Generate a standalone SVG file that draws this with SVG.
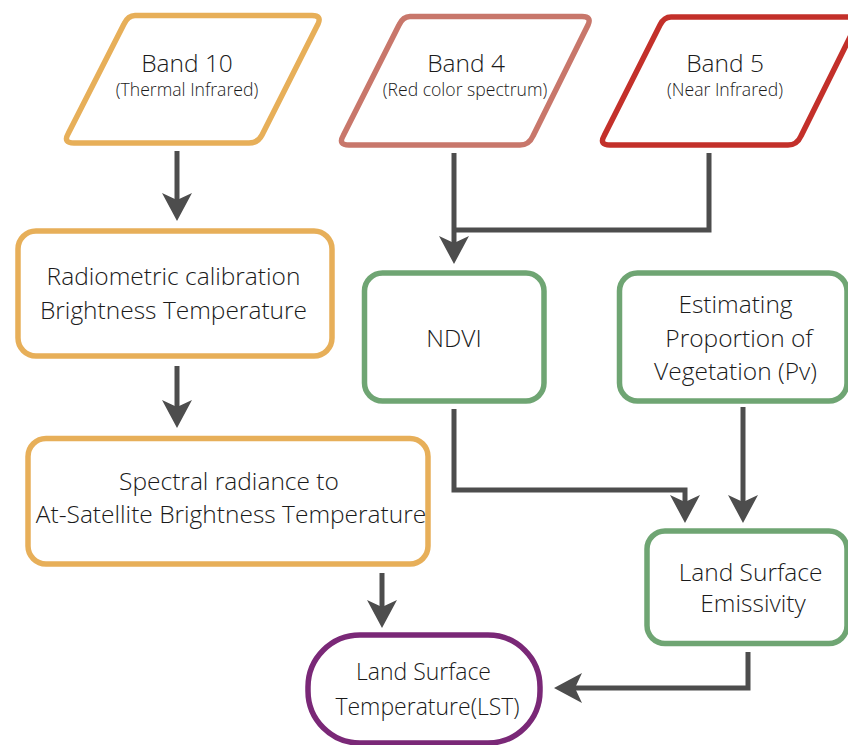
<svg xmlns="http://www.w3.org/2000/svg" width="848" height="745" viewBox="0 0 848 745">
<defs>
<style>
.t{font-family:"Open Sans","Noto Sans","Liberation Sans",sans-serif;font-weight:300;fill:#1a1a1a;text-anchor:middle}
.big{font-size:24.5px}
.mid{font-size:23px}
.sub{font-size:17.6px}
.node{fill:#fff;stroke-width:5.5;stroke-linejoin:round}
.orange{stroke:#E7AF59}
.rose{stroke:#C8776B}
.red{stroke:#C3302A}
.green{stroke:#6FA573}
.purple{stroke:#7A2877}
.conn{fill:none;stroke:#4D4D4D;stroke-width:5;stroke-linejoin:miter}
</style>
<marker id="arr" markerUnits="userSpaceOnUse" viewBox="0 0 28 30" markerWidth="28" markerHeight="30" refX="7" refY="15" orient="auto">
<path d="M0,0 L28,15 L0,30 L7,15 Z" fill="#4D4D4D"/>
</marker>
</defs>
<rect width="848" height="745" fill="#fff"/>

<g id="band10">
<path class="node orange" d="M135,15.5 H312 Q322,15.5 318,24 L262,135 Q258,143 249,143 H74 Q63,143 68,134 L124,24 Q128,15.5 135,15.5 Z"/>
<text class="t big" x="187" y="72">Band 10</text>
<text class="t sub" x="187" y="96">(Thermal Infrared)</text>
</g>

<g id="band4">
<path class="node rose" d="M410,16.5 H582 Q592,16.5 588,25 L533,136 Q529,145 520,145 H349 Q338,145 343,136 L399,25 Q403,16.5 410,16.5 Z"/>
<text class="t big" x="466" y="72">Band 4</text>
<text class="t sub" x="465" y="96">(Red color spectrum)</text>
</g>

<g id="band5">
<path class="node red" d="M671,17 H860 L801,136 Q797,145 788,145 H610 Q599,145 604,136 L660,25 Q664,17 671,17 Z"/>
<text class="t big" x="725" y="72">Band 5</text>
<text class="t sub" x="725" y="96">(Near Infrared)</text>
</g>

<g id="radiometric">
<rect class="node orange" x="18" y="231" width="314" height="125" rx="18"/>
<text class="t big" x="173.5" y="285">Radiometric calibration</text>
<text class="t big" x="173.5" y="319">Brightness Temperature</text>
</g>

<g id="spectral">
<rect class="node orange" x="28" y="438.5" width="400" height="125.5" rx="18"/>
<text class="t big" x="229" y="490">Spectral radiance to</text>
<text class="t big" x="231" y="523">At-Satellite Brightness Temperature</text>
</g>

<g id="ndvi">
<rect class="node green" x="364.5" y="273" width="179.5" height="128" rx="18"/>
<text class="t big" x="454" y="347">NDVI</text>
</g>

<g id="pv">
<rect class="node green" x="619.5" y="273" width="227.5" height="128" rx="18"/>
<text class="t big" x="735.5" y="313">Estimating</text>
<text class="t big" x="739" y="347">Proportion of</text>
<text class="t big" x="735.5" y="380">Vegetation (Pv)</text>
</g>

<g id="emissivity">
<rect class="node green" x="647" y="531" width="200" height="112.5" rx="18"/>
<text class="t big" x="750.5" y="581">Land Surface</text>
<text class="t big" x="753" y="612">Emissivity</text>
</g>

<g id="lst">
<rect class="node purple" x="308" y="635" width="232" height="108" rx="52"/>
<text class="t mid" x="423.5" y="680">Land Surface</text>
<text class="t mid" x="427.5" y="715">Temperature(LST)</text>
</g>

<g id="connectors">
<path class="conn" marker-end="url(#arr)" d="M177,151 V200"/>
<path class="conn" marker-end="url(#arr)" d="M177,366 V407"/>
<path class="conn" marker-end="url(#arr)" d="M454,153 V243"/>
<path class="conn" d="M709,153 V230 H454"/>
<path class="conn" marker-end="url(#arr)" d="M454,409 V490 H685 V502"/>
<path class="conn" marker-end="url(#arr)" d="M743,407 V502"/>
<path class="conn" marker-end="url(#arr)" d="M382,573 V607"/>
<path class="conn" marker-end="url(#arr)" d="M748,652 V688 H575"/>
</g>
</svg>
